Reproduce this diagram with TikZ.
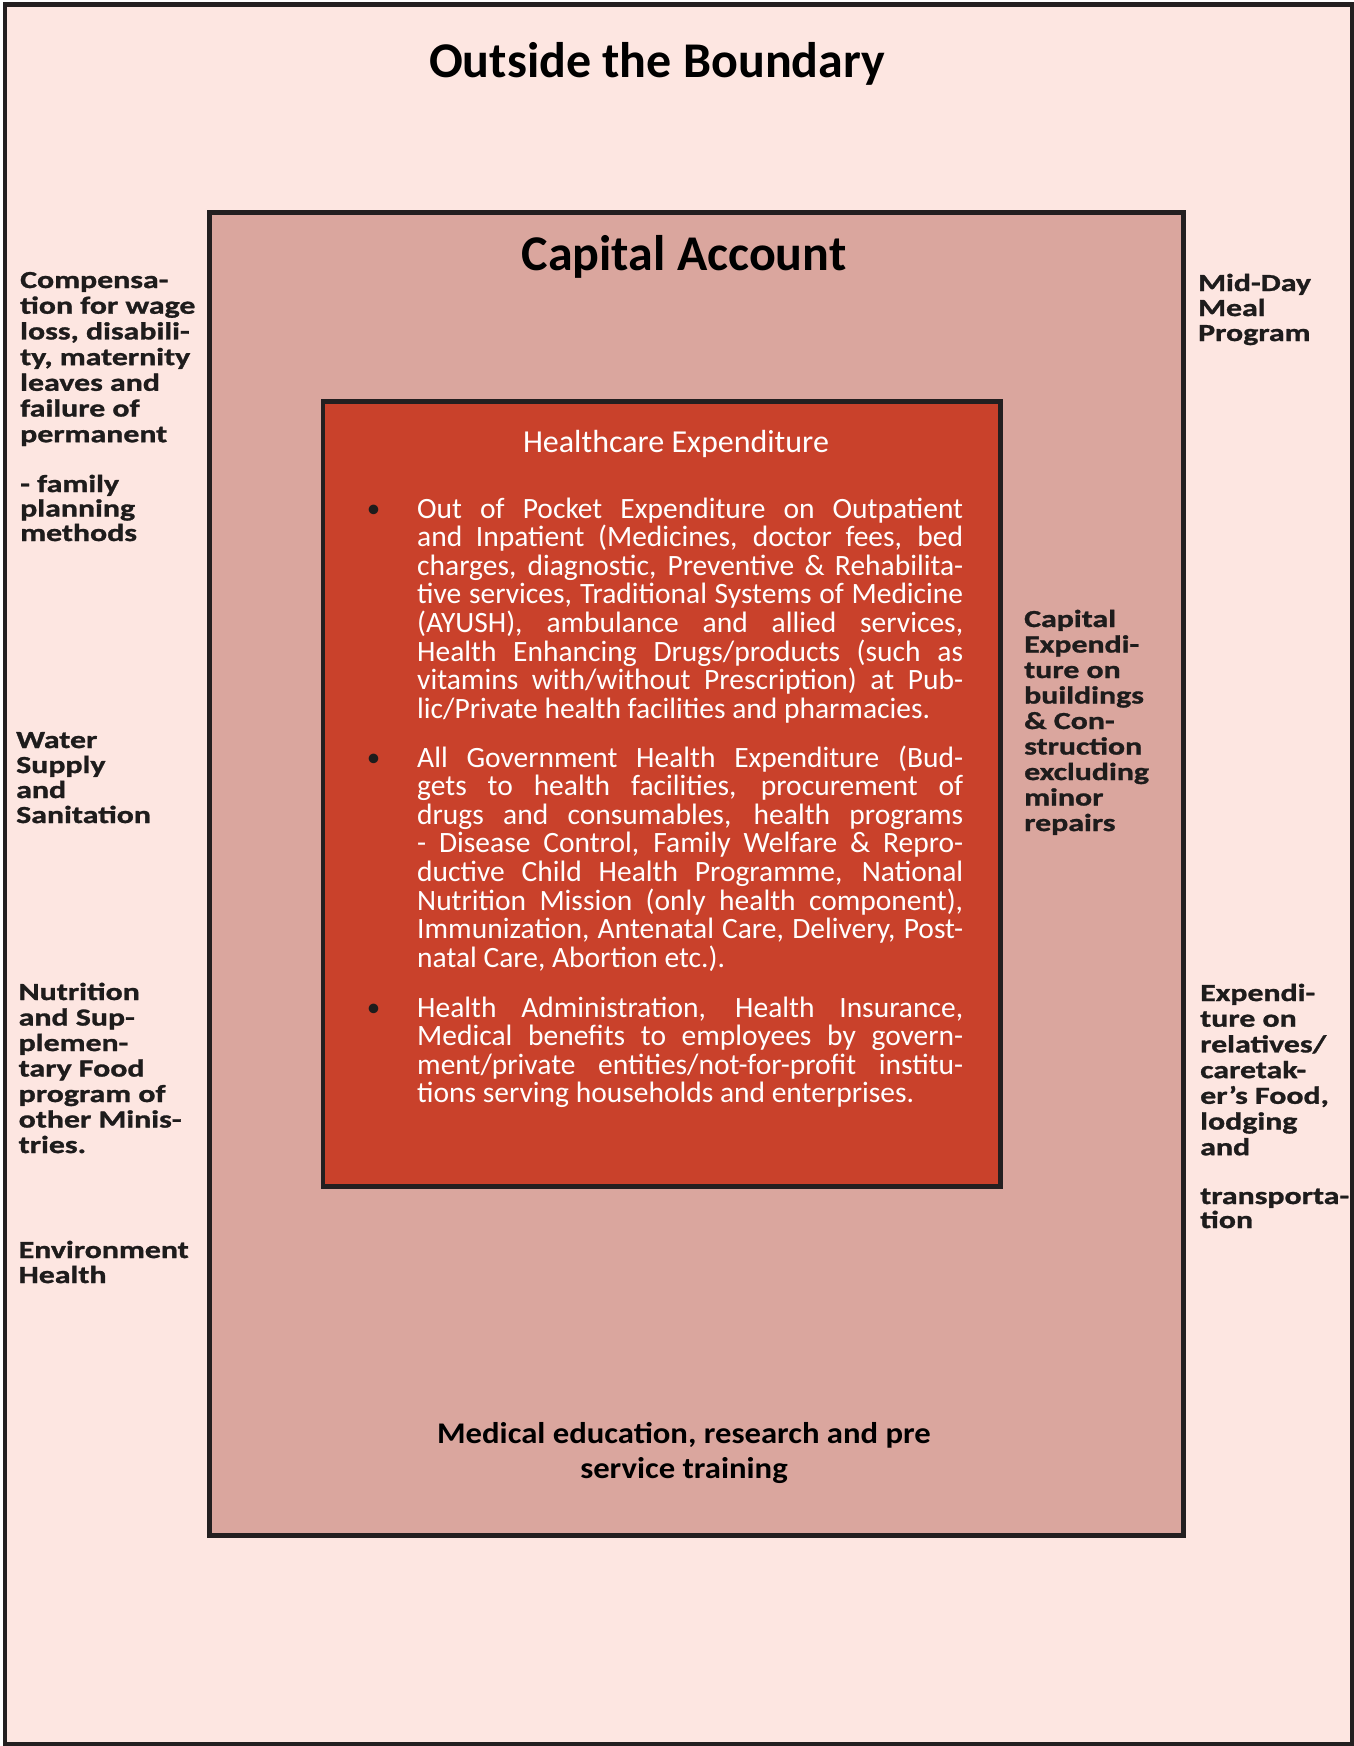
\documentclass[tikz,border=0pt]{standalone}
\usepackage{fontspec}
\setmainfont{Carlito}
\newfontfamily\labfont{Carlito}[FakeStretch=1.3,FakeBold=1.2]
\newfontfamily\medfont{Carlito}[FakeStretch=1.09]
\definecolor{outerbg}{RGB}{253,230,225}
\definecolor{capbg}{RGB}{218,166,158}
\definecolor{innerbg}{RGB}{201,65,43}
\definecolor{edge}{RGB}{35,31,32}
\definecolor{labcol}{RGB}{30,28,28}
\newlength\bodyw \setlength\bodyw{546pt}
\newcommand\jl[1]{\hbox to\bodyw{#1}}
\newcommand\lastl[1]{\hbox to\bodyw{#1\hfil}}
\newcommand\bstack[1]{\vtop{\baselineskip=28.6pt\relax\lineskiplimit=-100pt\lineskip=0pt #1}}
\newcommand\lstack[2]{\vtop{\baselineskip=#1\relax\lineskiplimit=-100pt\lineskip=0pt\halign{##\hfil\cr#2\crcr}}}
\newcommand\cstack[2]{\vtop{\baselineskip=#1\relax\lineskiplimit=-100pt\lineskip=0pt\halign{\hfil##\hfil\cr#2\crcr}}}
\tikzset{
  lab/.style={anchor=base west, inner sep=0pt, text=labcol, font=\labfont\bfseries\fontsize{24.5}{25.5}\selectfont},
  body/.style={anchor=base west, inner sep=0pt, text=white, font=\fontsize{29.5}{28.6}\selectfont},
  bul/.style={anchor=base, inner sep=0pt, text=labcol, font=\fontsize{27}{27}\selectfont},
  ttl/.style={anchor=base, inner sep=0pt, text=black, font=\bfseries\fontsize{50}{60}\selectfont},
  medtxt/.style={anchor=base, inner sep=0pt, text=black, font=\medfont\bfseries\fontsize{30}{35}\selectfont},
  frame/.style={draw=edge}
}
\begin{document}
\begin{tikzpicture}[x=1pt,y=-1pt]
\useasboundingbox (0,0) rectangle (1354,1746);
\fill[white] (0,0) rectangle (1354,1746);
% boxes
\draw[frame, line width=4.7pt, fill=outerbg] (5,4.2) rectangle (1352,1744);
\draw[frame, line width=5pt, fill=capbg] (209.5,212.5) rectangle (1183,1535);
\draw[frame, line width=4.5pt, fill=innerbg] (323,401.5) rectangle (1000.5,1186.5);
% titles
\node[ttl] (outside) at (657,77) {Outside the Boundary};
\node[ttl] (capital) at (684,270) {Capital Account};
\node[anchor=base, inner sep=0pt, text=white, font=\fontsize{32}{36}\selectfont] (hce) at (676,452) {Healthcare Expenditure};
% bullets
\node[bul] (b1) at (373.5,517) {•};
\node[bul] (b2) at (373.5,766) {•};
\node[bul] (b3) at (373.5,1016) {•};
% body paragraphs
\node[body] (p1) at (417,518) {\bstack{%
\jl{Out of Pocket Expenditure on Outpatient}
\jl{and Inpatient (Medicines, doctor fees, bed}
\jl{charges, diagnostic, Preventive \& Rehabilita-}
\jl{tive services, Traditional Systems of Medicine}
\jl{(AYUSH), ambulance and allied services,}
\jl{Health Enhancing Drugs/products (such as}
\jl{vitamins with/without Prescription) at Pub-}
\lastl{lic/Private health facilities and pharmacies.}}};
\node[body] (p2) at (417,767) {\bstack{%
\jl{All Government Health Expenditure (Bud-}
\jl{gets to health facilities, procurement of}
\jl{drugs and consumables, health programs}
\jl{- Disease Control, Family Welfare \& Repro-}
\jl{ductive Child Health Programme, National}
\jl{Nutrition Mission (only health component),}
\jl{Immunization, Antenatal Care, Delivery, Post-}
\lastl{natal Care, Abortion etc.).}}};
\node[body] (p3) at (417,1017) {\bstack{%
\jl{Health Administration, Health Insurance,}
\jl{Medical benefits to employees by govern-}
\jl{ment/private entities/not-for-profit institu-}
\lastl{tions serving households and enterprises.}}};
% left labels
\node[lab] (comp) at (20,288) {\lstack{25.7pt}{Compensa-\cr tion for wage\cr loss, disabili-\cr ty, maternity\cr leaves and\cr failure of\cr permanent}};
\node[lab] (fam) at (20,492) {\lstack{24.5pt}{- family\cr planning\cr methods}};
\node[lab] (water) at (16,748) {\lstack{25pt}{Water\cr Supply\cr and\cr Sanitation}};
\node[lab] (nutr) at (18.5,1000) {\lstack{25.5pt}{Nutrition\cr and Sup-\cr plemen-\cr tary Food\cr program of\cr other Minis-\cr tries.}};
\node[lab] (env) at (18.5,1258) {\lstack{25pt}{Environment\cr Health}};
% right labels
\node[lab] (mdm) at (1198,291) {\lstack{25pt}{Mid-Day\cr Meal\cr Program}};
\node[lab] (capex) at (1024,627) {\lstack{25.5pt}{Capital\cr Expendi-\cr ture on\cr buildings\cr \& Con-\cr struction\cr excluding\cr minor\cr repairs}};
\node[lab] (rel) at (1200,1001) {\lstack{25.7pt}{Expendi-\cr ture on\cr relatives/\cr caretak-\cr er’s Food,\cr lodging\cr and}};
\node[lab] (trans) at (1200,1204) {\lstack{24pt}{transporta-\cr tion}};
% medical education
\node[medtxt] (med) at (684,1443) {\cstack{35pt}{Medical education, research and pre\cr service training}};
\end{tikzpicture}
\end{document}
